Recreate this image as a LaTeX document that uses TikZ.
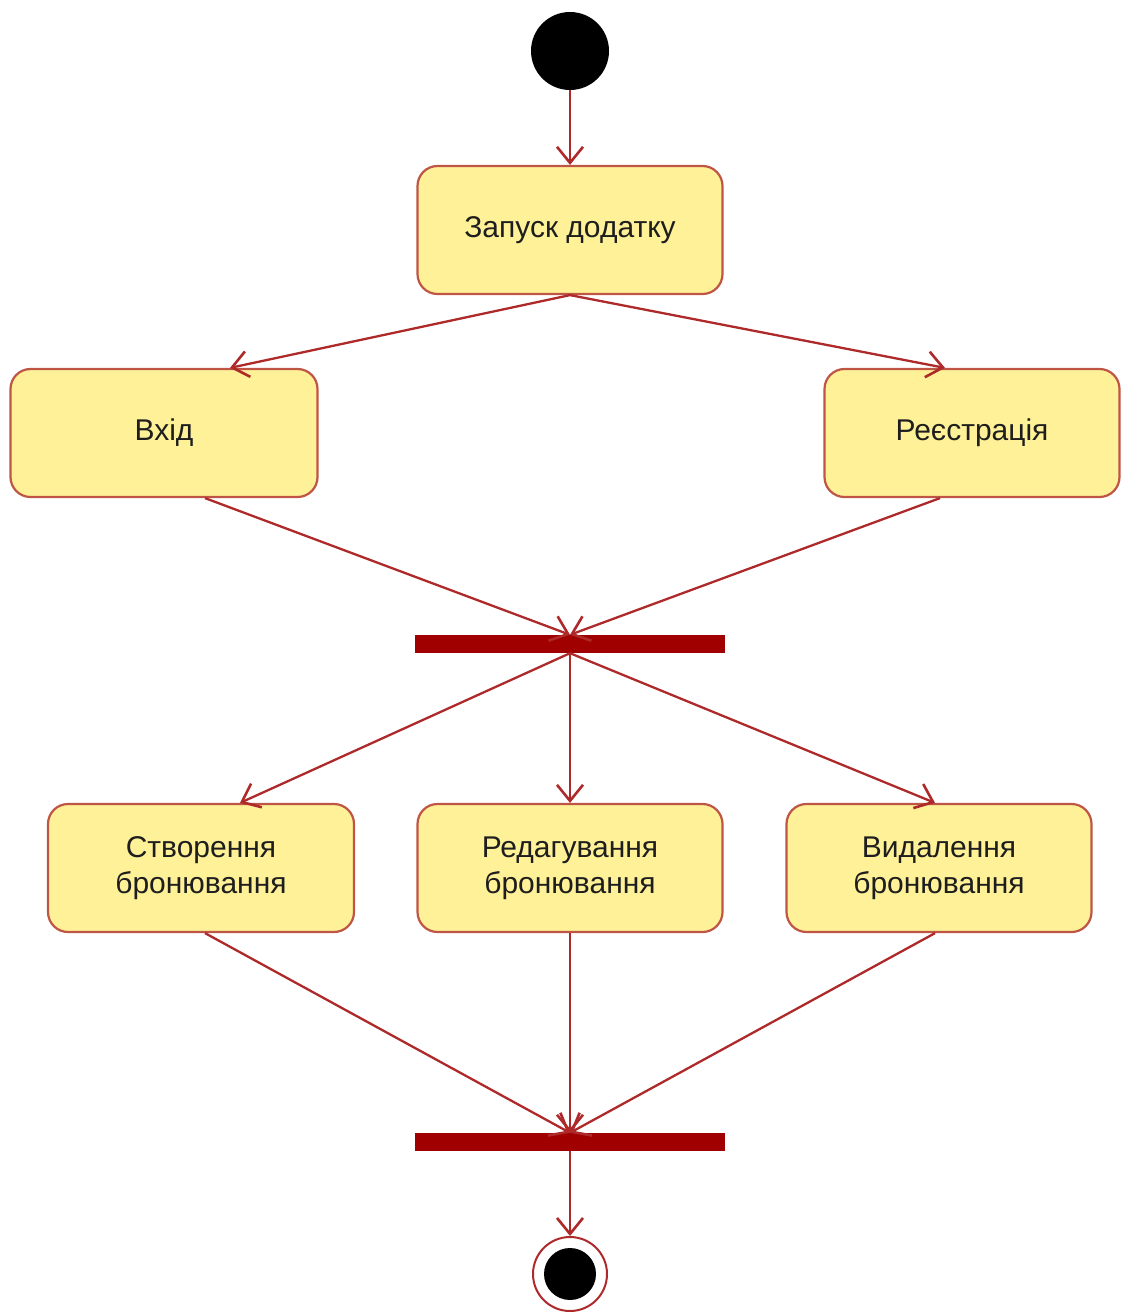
\documentclass[tikz,border=0pt]{standalone}
\usepackage{fontspec}
\setmainfont{Liberation Sans}
\usetikzlibrary{arrows.meta}
\definecolor{boxfill}{HTML}{FFF197}
\definecolor{boxdraw}{HTML}{BF5545}
\definecolor{linecol}{HTML}{AE2A2A}
\definecolor{barcol}{HTML}{A00000}
\definecolor{txtcol}{HTML}{1E1E1E}
\begin{document}
\begin{tikzpicture}[x=1pt,y=-1pt,
  act/.style={draw=boxdraw, line width=2.2pt, fill=boxfill, rounded corners=20pt,
    minimum width=305pt, minimum height=128pt, align=center, text=txtcol,
    font=\fontsize{30}{36}\selectfont, inner sep=0pt},
  barnode/.style={fill=barcol, draw=none, minimum width=310pt, minimum height=18pt, inner sep=0pt},
  startnode/.style={circle, fill=black, minimum size=78pt, inner sep=0pt},
  endnode/.style={circle, fill=white, draw=linecol, line width=2pt, minimum size=74pt, inner sep=0pt},
  flow/.style={draw=linecol, line width=2.3pt, -{Straight Barb[length=16pt,width=26pt,line width=2.6pt]}}
]
\useasboundingbox (0,0) rectangle (1122,1313);
\node[startnode] (start) at (570,51) {};
\node[act] (launch) at (570,230) {Запуск додатку};
\node[act, minimum width=307pt] (vhid) at (164,433) {Вхід};
\node[act, minimum width=295pt] (reg) at (972,433) {Реєстрація};
\node[barnode] (fork) at (570,644) {};
\node[act, minimum width=306pt] (create) at (201,868) {Створення\\бронювання};
\node[act] (edit) at (570,868) {Редагування\\бронювання};
\node[act] (del) at (939,868) {Видалення\\бронювання};
\node[barnode] (join) at (570,1142) {};
\node[endnode] (end) at (570,1274) {};
\node[circle, fill=black, minimum size=52pt, inner sep=0pt] (endin) at (end.center) {};

\draw[flow] (start) -- (launch.north);
\draw[flow] (launch.south) -- ([xshift=66pt]vhid.north);
\draw[flow] (launch.south) -- ([xshift=-27pt]reg.north);
\draw[flow] ([xshift=41pt]vhid.south) -- (fork.north);
\draw[flow] ([xshift=-32pt]reg.south) -- (fork.north);
\draw[flow] (fork.south) -- ([xshift=39pt]create.north);
\draw[flow] (fork.south) -- (edit.north);
\draw[flow] (fork.south) -- ([xshift=-4pt]del.north);
\draw[flow] ([xshift=4pt]create.south) -- (join.north);
\draw[flow] (edit.south) -- (join.north);
\draw[flow] ([xshift=-4pt]del.south) -- (join.north);
\draw[flow] (join.south) -- (end.north);
\end{tikzpicture}
\end{document}
